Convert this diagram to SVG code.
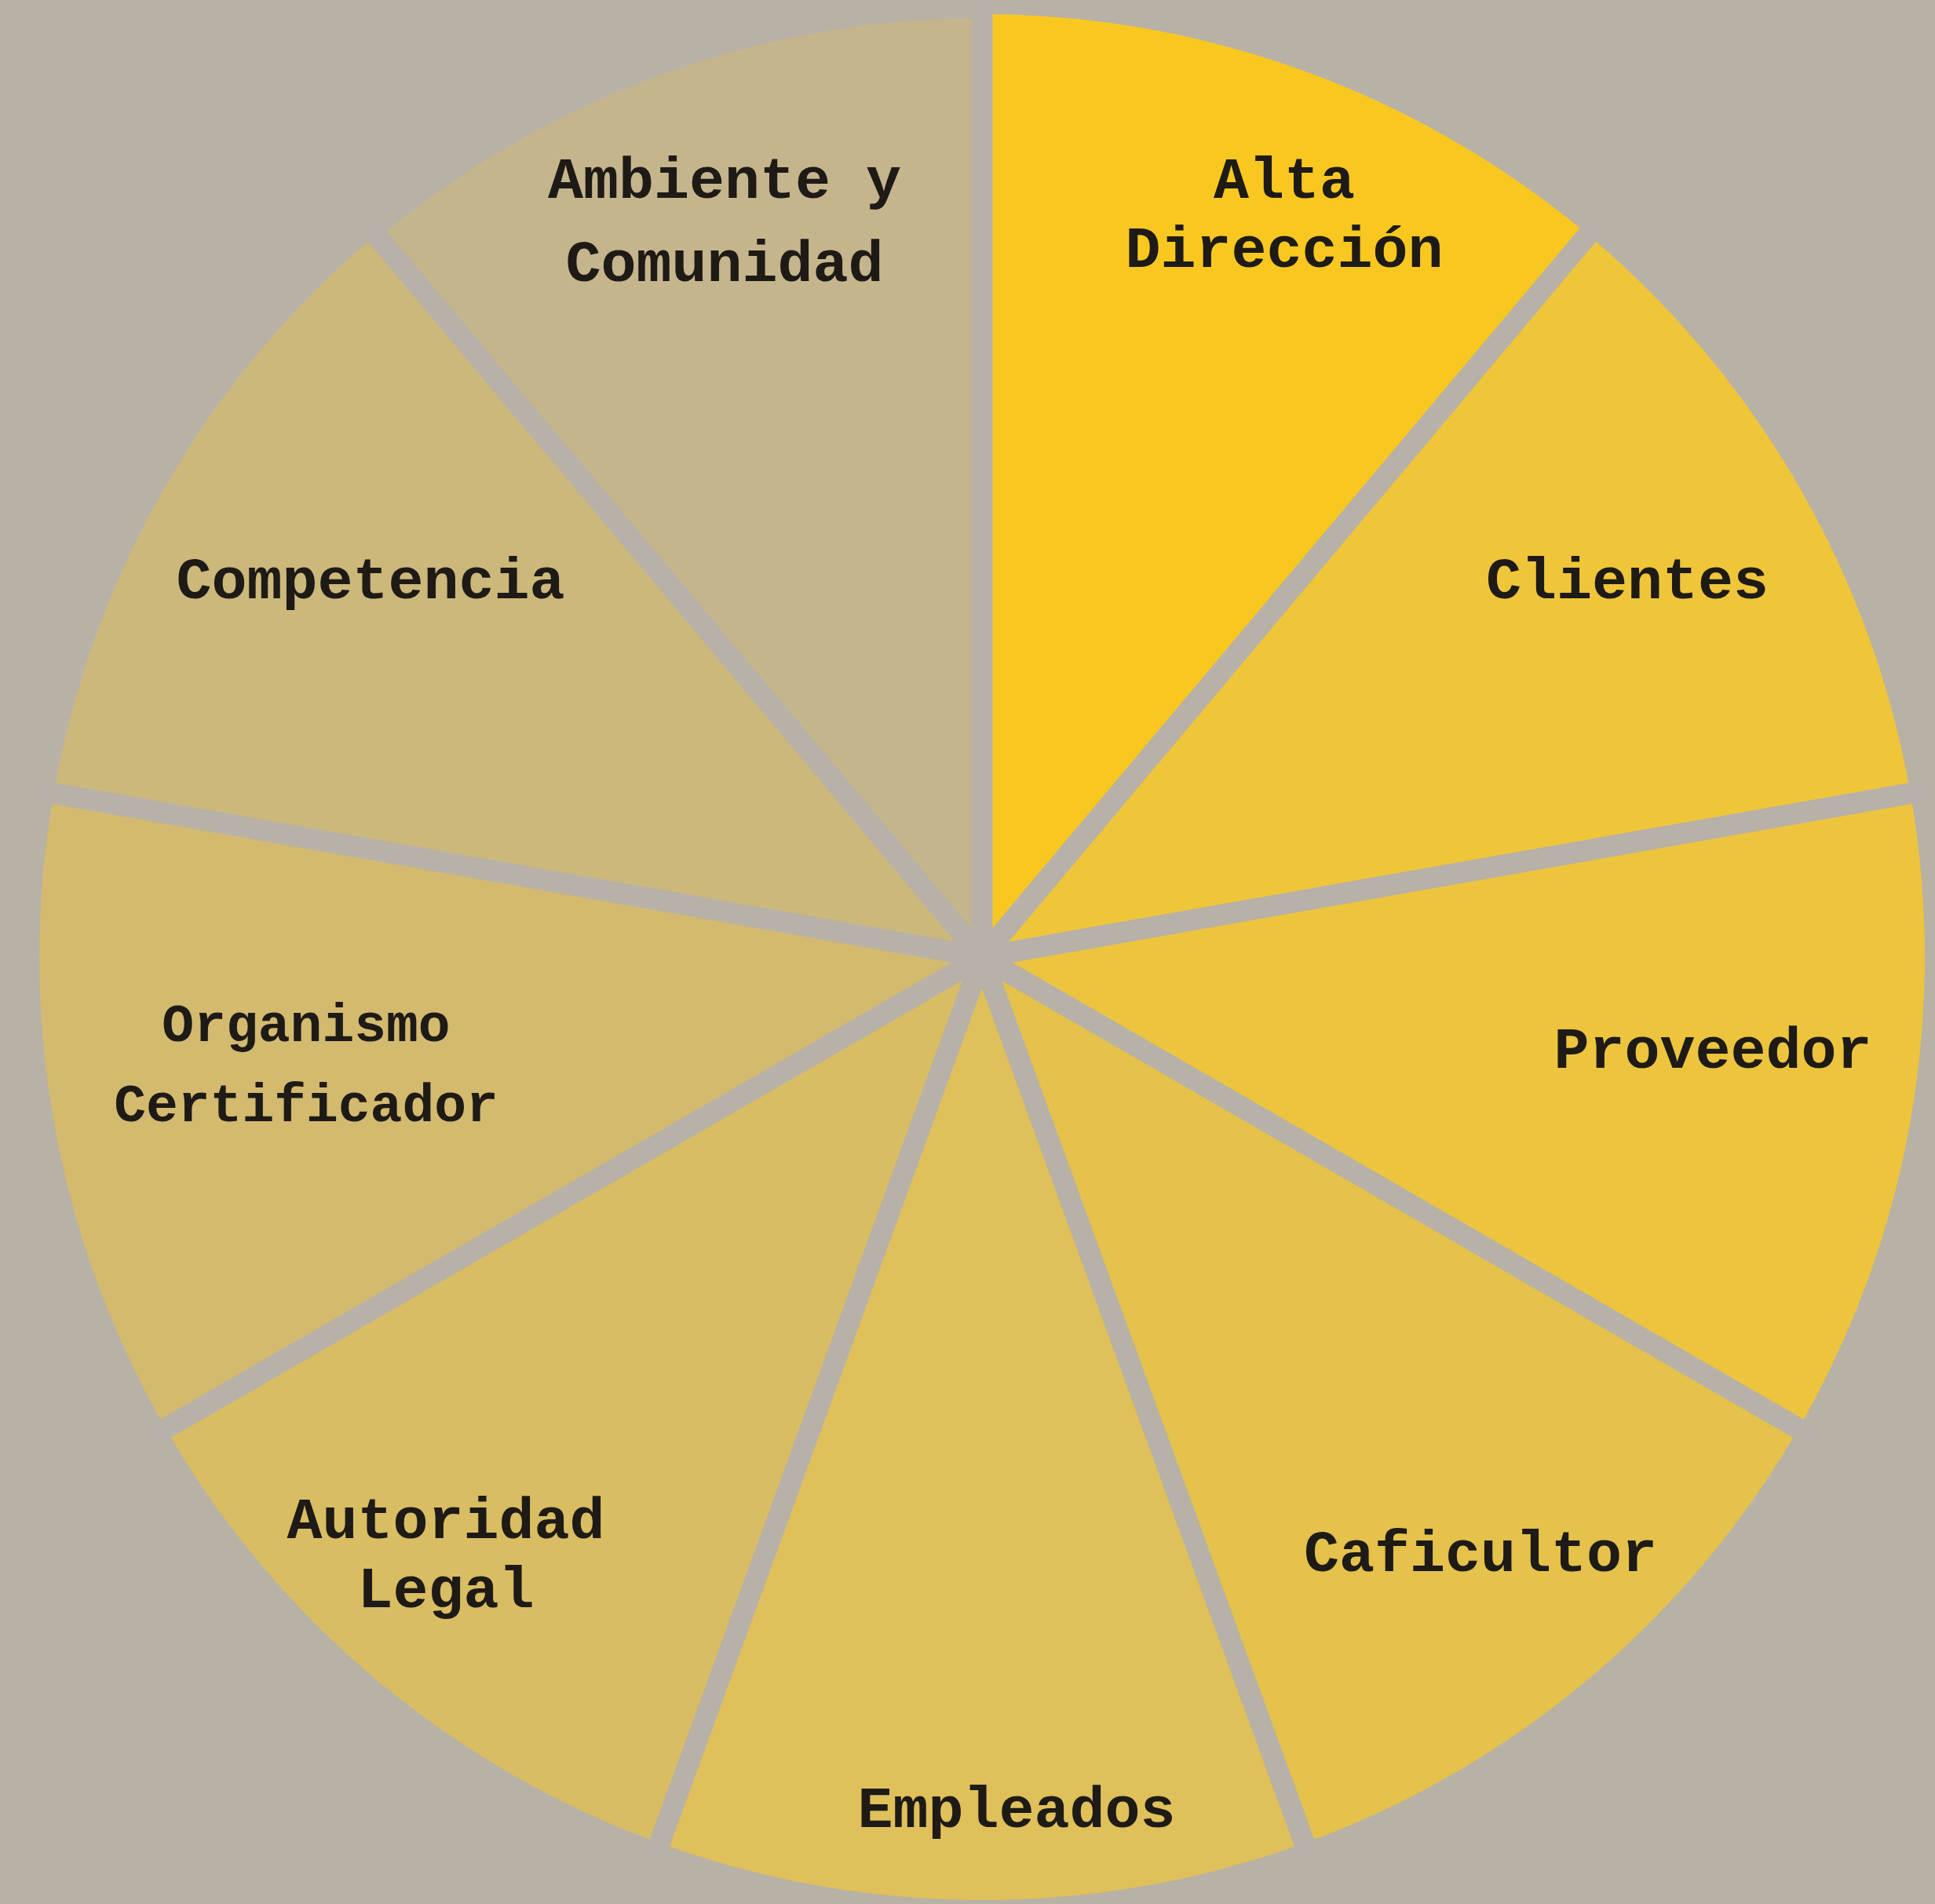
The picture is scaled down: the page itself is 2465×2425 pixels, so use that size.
<svg xmlns="http://www.w3.org/2000/svg" width="2465" height="2425" viewBox="0 0 2465 2425">
<style>
.bg{fill:#B8B1A6}
.sep{stroke:#B8B1A7;stroke-width:27;stroke-linecap:butt}
.lbl{font-family:"Liberation Mono","Courier New",monospace;font-weight:bold;font-size:75px;fill:#1E1A16;text-anchor:middle}
</style>
<rect class="bg" x="0" y="0" width="2465" height="2425"/>
<g id="alta-direccion">
<path d="M1251 1219 L1251 18 A1201 1201 0 0 1 2023.0 299.0 Z" fill="#F9C820"/>
<text class="lbl" x="1636" y="252">Alta</text>
<text class="lbl" x="1636" y="340">Dirección</text>
</g>
<g id="clientes">
<path d="M1251 1219 L2023.0 299.0 A1201 1201 0 0 1 2433.7 1010.5 Z" fill="#EFC63A"/>
<text class="lbl" x="2073" y="762">Clientes</text>
</g>
<g id="proveedor">
<path d="M1251 1219 L2433.7 1010.5 A1201 1201 0 0 1 2291.1 1819.5 Z" fill="#ECC43E"/>
<text class="lbl" x="2182" y="1360">Proveedor</text>
</g>
<g id="caficultor">
<path d="M1251 1219 L2291.1 1819.5 A1201 1201 0 0 1 1661.8 2347.6 Z" fill="#E4C24B"/>
<text class="lbl" x="1886" y="2001">Caficultor</text>
</g>
<g id="empleados">
<path d="M1251 1219 L1661.8 2347.6 A1201 1201 0 0 1 840.2 2347.6 Z" fill="#DFC05A"/>
<text class="lbl" x="1295" y="2327">Empleados</text>
</g>
<g id="autoridad-legal">
<path d="M1251 1219 L840.2 2347.6 A1201 1201 0 0 1 210.9 1819.5 Z" fill="#D9BD63"/>
<text class="lbl" x="568" y="1959">Autoridad</text>
<text class="lbl" x="568" y="2047">Legal</text>
</g>
<g id="organismo-certificador">
<path d="M1251 1219 L210.9 1819.5 A1201 1201 0 0 1 68.3 1010.5 Z" fill="#D3BA6F"/>
<text class="lbl" x="390" y="1326" style="font-size:68px">Organismo</text>
<text class="lbl" x="390" y="1428" style="font-size:68px">Certificador</text>
</g>
<g id="competencia">
<path d="M1251 1219 L68.3 1010.5 A1201 1201 0 0 1 479.0 299.0 Z" fill="#CCB87B"/>
<text class="lbl" x="472" y="762">Competencia</text>
</g>
<g id="ambiente-comunidad">
<path d="M1251 1219 L482.3 302.8 A1196 1196 0 0 1 1251 23 Z" fill="#C5B58D"/>
<text class="lbl" x="923" y="252">Ambiente y</text>
<text class="lbl" x="923" y="358">Comunidad</text>
</g>
<g id="separators">
<line class="sep" x1="1251" y1="1219" x2="1251" y2="0"/>
<line class="sep" x1="1251" y1="1219" x2="2038.4" y2="280.6"/>
<line class="sep" x1="1251" y1="1219" x2="2457.3" y2="1006.3"/>
<line class="sep" x1="1251" y1="1219" x2="2311.9" y2="1831.5"/>
<line class="sep" x1="1251" y1="1219" x2="1670.0" y2="2370.2"/>
<line class="sep" x1="1251" y1="1219" x2="832.0" y2="2370.2"/>
<line class="sep" x1="1251" y1="1219" x2="190.1" y2="1831.5"/>
<line class="sep" x1="1251" y1="1219" x2="44.7" y2="1006.3"/>
<line class="sep" x1="1251" y1="1219" x2="463.6" y2="280.6"/>
</g>
</svg>
